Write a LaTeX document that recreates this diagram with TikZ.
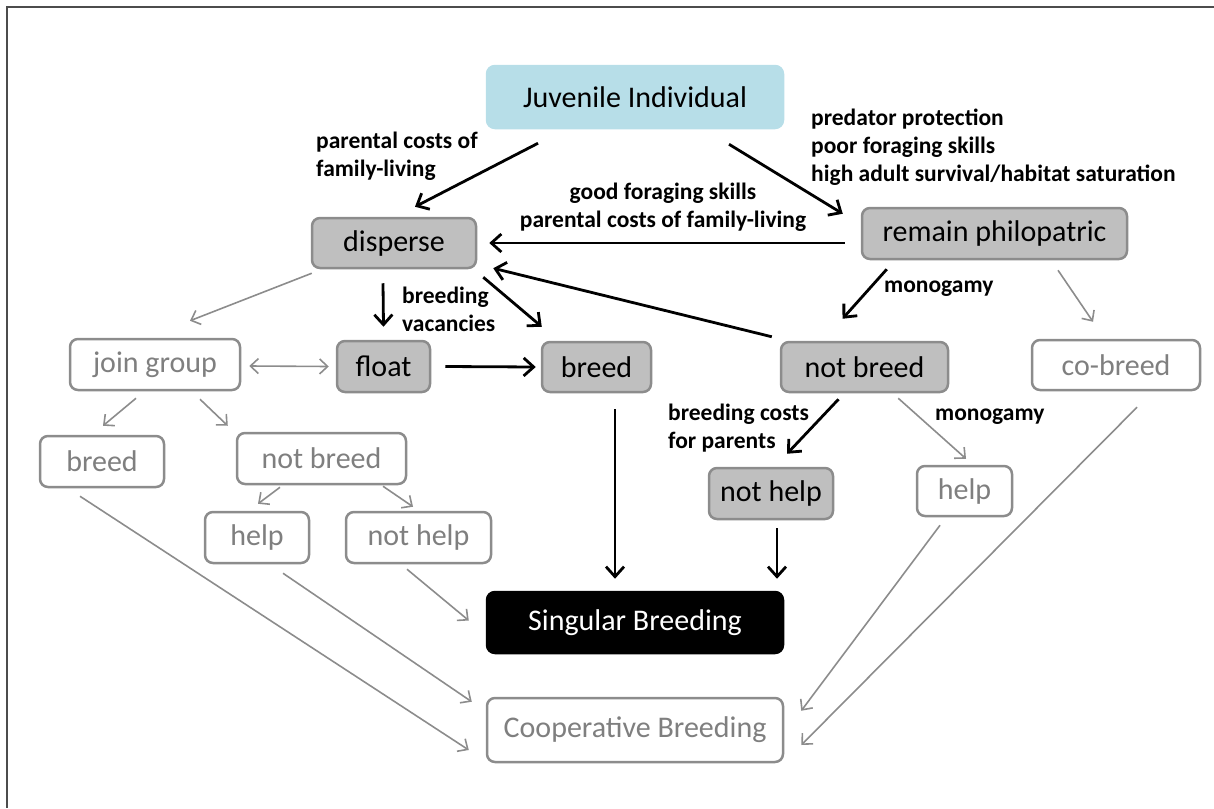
\documentclass[tikz,border=0pt]{standalone}
\usepackage{fontspec}
\setmainfont{Carlito}
\usetikzlibrary{arrows.meta,calc}
\definecolor{boxgray}{HTML}{BFBFBF}
\definecolor{edgegray}{HTML}{8C8C8C}
\definecolor{txtgray}{HTML}{7F7F7F}
\definecolor{juvblue}{HTML}{B7DEE8}
\tikzset{
  base/.style={rounded corners=8pt, line width=2.5pt, inner sep=0pt, font=\fontsize{30}{36}\selectfont},
  graybox/.style={base, draw=edgegray, fill=boxgray, text=black},
  whitebox/.style={base, draw=edgegray, fill=white, text=txtgray},
  lbl/.style={font=\bfseries\fontsize{23.5}{28}\selectfont, inner sep=0pt, text=black},
  blk/.style={line width=2.8pt, draw=black, -{Straight Barb[length=10pt,width=18pt,line width=2.8pt]}},
  gry/.style={line width=1.6pt, draw=edgegray, -{Straight Barb[length=8pt,width=15pt,line width=1.6pt]}},
}
\begin{document}
\begin{tikzpicture}[x=1pt,y=-1pt]
\useasboundingbox (0,0) rectangle (1214,808);
\draw[line width=2pt, draw=black!70] (1214,7) -- (7,7) -- (7,808);
% nodes
\node[base, fill=juvblue, draw=juvblue, minimum width=296pt, minimum height=62pt] (juv) at (635,97) {Juvenile Individual};
\node[graybox, minimum width=164pt, minimum height=50pt] (disp) at (394,243) {disperse};
\node[graybox, minimum width=265pt, minimum height=51pt] (remain) at (994.5,233.5) {remain philopatric};
\node[whitebox, minimum width=170pt, minimum height=51pt] (join) at (155,364.5) {join group};
\node[graybox, minimum width=93pt, minimum height=51pt] (float) at (383.5,366.5) {float};
\node[graybox, minimum width=109pt, minimum height=50pt] (breedc) at (596.5,367) {breed};
\node[graybox, minimum width=167pt, minimum height=50pt] (nbreedg) at (864.5,367) {not breed};
\node[whitebox, minimum width=168pt, minimum height=50pt] (cobreed) at (1116,365) {co-breed};
\node[whitebox, minimum width=124pt, minimum height=51pt] (breedl) at (102,461.5) {breed};
\node[whitebox, minimum width=169pt, minimum height=51pt] (nbreedw) at (321.5,458.5) {not breed};
\node[whitebox, minimum width=104pt, minimum height=51pt] (helpl) at (257,537.5) {help};
\node[whitebox, minimum width=145pt, minimum height=51pt] (nhelpw) at (418.5,537.5) {not help};
\node[graybox, minimum width=124pt, minimum height=51pt] (nhelpg) at (771,493.5) {not help};
\node[whitebox, minimum width=95pt, minimum height=50pt] (helpr) at (964.5,491) {help};
\node[base, fill=black, draw=black, text=white, minimum width=296pt, minimum height=61pt] (sing) at (635,622.5) {Singular Breeding};
\node[whitebox, minimum width=296pt, minimum height=64pt] (coop) at (635,730) {Cooperative Breeding};
% labels
\node[lbl, anchor=west, align=left] (l1) at (316,156) {parental costs of\\family-living};
\node[lbl, anchor=west, align=left] (l2) at (811,147.5) {predator protection\\poor foraging skills\\high adult survival/habitat saturation};
\node[lbl, align=center] (l3) at (663,207.5) {good foraging skills\\parental costs of family-living};
\node[lbl, anchor=west, align=left] (l4) at (402,309.5) {breeding\\vacancies};
\node[lbl, anchor=west] (l5) at (884,289) {monogamy};
\node[lbl, anchor=west, align=left] (l6) at (668,428.5) {breeding costs\\for parents};
\node[lbl, anchor=west] (l7) at (935,417) {monogamy};
% black connectors
\draw[blk] ($(juv.south)+(-97,14)$) -- ($(disp.north)+(21,-10)$);
\draw[blk] ($(juv.south)+(94,15)$) -- ($(remain.north west)+(-18,7)$);
\draw[blk] ($(remain.west)+(-16,9.5)$) -- ($(disp.east)+(12,0)$);
\draw[blk] ($(nbreedg.north west)+(-8,-4)$) -- ($(disp.south east)+(16,-1)$);
\draw[blk] ($(disp.south)+(-11,14)$) -- ($(float.north)+(0,-13)$);
\draw[blk] ($(disp.south east)+(6,8)$) -- ($(breedc.north west)+(1,-14)$);
\draw[blk] ($(float.east)+(14,0)$) -- ($(breedc.west)+(-5,0)$);
\draw[blk] ($(remain.south west)+(26,9)$) -- ($(nbreedg.north)+(-22,-22)$);
\draw[blk] ($(breedc.south)+(18.5,16)$) -- ($(sing.north)+(-20,-12)$);
\draw[blk] ($(nbreedg.south)+(-26,6)$) -- ($(nhelpg.north)+(16,-13)$);
\draw[blk] ($(nhelpg.south)+(6,8)$) -- ($(sing.north)+(142,-12)$);
% gray connectors
\draw[gry] ($(disp.south west)+(1,4)$) -- ($(join.north)+(35,-17)$);
\draw[gry, {Straight Barb[length=8pt,width=15pt,line width=1.6pt]}-{Straight Barb[length=8pt,width=15pt,line width=1.6pt]}] ($(join.east)+(8,1.5)$) -- ($(float.west)+(-7,0)$);
\draw[gry] ($(remain.south)+(63.5,10)$) -- ($(cobreed.north)+(-23,-17)$);
\draw[gry] ($(join.south)+(-19,7)$) -- ($(breedl.north)+(1,-9)$);
\draw[gry] ($(join.south)+(45,8)$) -- ($(nbreedw.north west)+(-8,-6)$);
\draw[gry] ($(nbreedw.south)+(-41.5,2)$) -- ($(helpl.north)+(1,-7)$);
\draw[gry] ($(nbreedw.south)+(61.5,1)$) -- ($(nhelpw.north)+(-5.5,-4)$);
\draw[gry] ($(nbreedg.south east)+(-51,5)$) -- ($(helpr.north)+(1.5,-6)$);
\draw[gry] ($(breedl.south)+(-22,8)$) -- ($(coop.west)+(-17,20)$);
\draw[gry] ($(helpl.south)+(26,9)$) -- ($(coop.north west)+(-14,5)$);
\draw[gry] ($(nhelpw.south)+(-11.5,5)$) -- ($(sing.west)+(-17,-2)$);
\draw[gry] ($(helpr.south)+(-24.5,8)$) -- ($(coop.north east)+(17,14)$);
\draw[gry] ($(cobreed.south)+(21,16)$) -- ($(coop.east)+(17,15)$);
\end{tikzpicture}
\end{document}
